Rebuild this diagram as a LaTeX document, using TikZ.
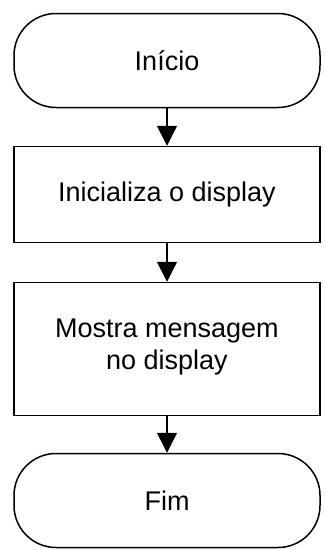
\documentclass[tikz,border=0pt]{standalone}
\usepackage{fontspec}
\setmainfont{Liberation Sans}
\usetikzlibrary{arrows.meta}
\begin{document}
\begin{tikzpicture}[x=1pt,y=-1pt,
  base/.style={draw=black,line width=1.5pt,minimum width=306pt,inner sep=0pt,align=center,font=\fontsize{27}{32}\selectfont},
  term/.style={base,rounded corners=42pt,minimum height=94pt},
  proc/.style={base},
  conn/.style={line width=1.5pt,-{Triangle[width=20pt,length=20pt]}}]
\useasboundingbox (0,0) rectangle (326,550);
\node[term] (s) at (167,60.5) {Início};
\node[proc,minimum height=96pt] (a) at (167,194.5) {Inicializa o display};
\node[proc,minimum height=133pt] (b) at (167,349) {Mostra mensagem\\no display\\[-22pt]};
\node[term] (e) at (167,500.5) {Fim};
\draw[conn] (s) -- (a);
\draw[conn] (a) -- (b);
\draw[conn] (b) -- (e);
\end{tikzpicture}
\end{document}
